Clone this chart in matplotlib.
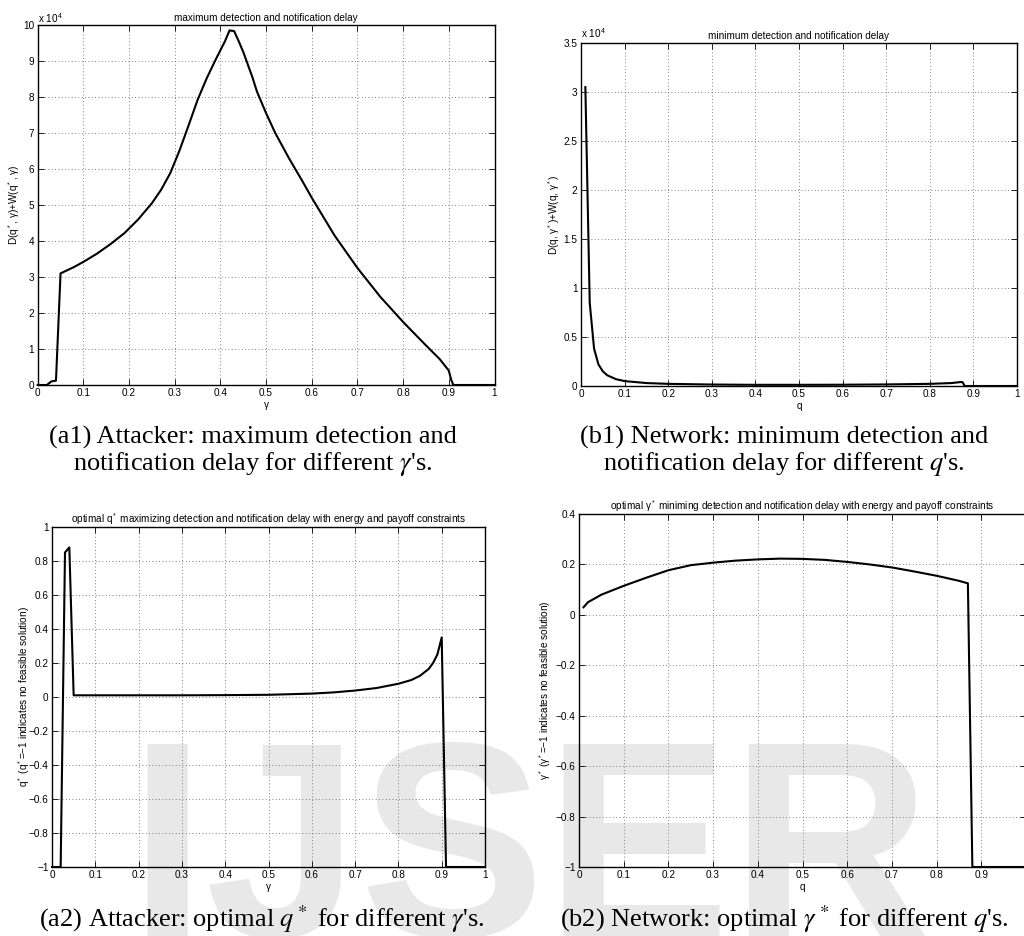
import numpy as np
import matplotlib
matplotlib.use("Agg")
import matplotlib.pyplot as plt

# ---------------- data ----------------
# (a1) maximum detection and notification delay vs gamma (units of 1e4)
a1_gamma = [0.00, 0.01, 0.02, 0.03, 0.04, 0.05, 0.08, 0.10, 0.13, 0.16, 0.19, 0.22, 0.25,
            0.27, 0.29, 0.31, 0.33, 0.35, 0.37, 0.39, 0.41, 0.42, 0.43, 0.44, 0.45, 0.46,
            0.47, 0.48, 0.49, 0.50, 0.52, 0.55, 0.58, 0.60, 0.65, 0.70, 0.75, 0.80, 0.85,
            0.88, 0.90, 0.905, 0.91, 0.95, 1.00]
a1_delay = [0.00, 0.00, 0.00, 0.10, 0.12, 3.10, 3.28, 3.42, 3.65, 3.92, 4.22, 4.60, 5.05,
            5.42, 5.88, 6.50, 7.20, 7.92, 8.52, 9.05, 9.55, 9.85, 9.83, 9.55, 9.25, 8.90,
            8.55, 8.15, 7.85, 7.55, 7.00, 6.30, 5.65, 5.20, 4.15, 3.25, 2.45, 1.75, 1.10,
            0.72, 0.40, 0.15, 0.00, 0.00, 0.00]

# (b1) minimum detection and notification delay vs q (units of 1e4)
b1_q = [0.01, 0.02, 0.03, 0.04, 0.05, 0.06, 0.08, 0.10, 0.15, 0.20, 0.30, 0.40, 0.50,
        0.60, 0.70, 0.80, 0.85, 0.87, 0.875, 0.88, 0.95, 1.00]
b1_delay = [3.05, 0.85, 0.38, 0.22, 0.15, 0.11, 0.07, 0.05, 0.03, 0.022, 0.015, 0.012, 0.012,
            0.013, 0.016, 0.022, 0.030, 0.040, 0.040, 0.00, 0.00, 0.00]

# (a2) optimal q* vs gamma
a2_gamma = [0.00, 0.01, 0.02, 0.03, 0.04, 0.05, 0.10, 0.20, 0.30, 0.40, 0.50, 0.60, 0.65,
            0.70, 0.75, 0.80, 0.83, 0.85, 0.87, 0.88, 0.89, 0.90, 0.91, 0.95, 1.00]
a2_qstar = [-1.0, -1.0, -1.0, 0.85, 0.88, 0.01, 0.01, 0.01, 0.01, 0.011, 0.013, 0.02, 0.027,
            0.038, 0.053, 0.078, 0.10, 0.125, 0.165, 0.20, 0.25, 0.35, -1.0, -1.0, -1.0]

# (b2) optimal gamma* vs q
b2_q = [0.01, 0.02, 0.05, 0.10, 0.15, 0.20, 0.25, 0.30, 0.35, 0.40, 0.45, 0.50, 0.55,
        0.60, 0.65, 0.70, 0.75, 0.80, 0.85, 0.87, 0.88, 0.95, 1.00]
b2_gstar = [0.03, 0.05, 0.08, 0.115, 0.147, 0.177, 0.197, 0.207, 0.215, 0.220, 0.223, 0.222,
            0.218, 0.210, 0.200, 0.188, 0.172, 0.155, 0.135, 0.125, -1.0, -1.0, -1.0]

x_ticks = [0, 0.1, 0.2, 0.3, 0.4, 0.5, 0.6, 0.7, 0.8, 0.9, 1]
x_ticklabels = ["0", "0.1", "0.2", "0.3", "0.4", "0.5", "0.6", "0.7", "0.8", "0.9", "1"]
a1_yticks = [0, 1, 2, 3, 4, 5, 6, 7, 8, 9, 10]
a1_yticklabels = ["0", "1", "2", "3", "4", "5", "6", "7", "8", "9", "10"]
b1_yticks = [0, 0.5, 1, 1.5, 2, 2.5, 3, 3.5]
b1_yticklabels = ["0", "0.5", "1", "1.5", "2", "2.5", "3", "3.5"]
a2_yticks = [-1, -0.8, -0.6, -0.4, -0.2, 0, 0.2, 0.4, 0.6, 0.8, 1]
a2_yticklabels = ["\u22121", "\u22120.8", "\u22120.6", "\u22120.4", "\u22120.2", "0",
                  "0.2", "0.4", "0.6", "0.8", "1"]
b2_yticks = [-1, -0.8, -0.6, -0.4, -0.2, 0, 0.2, 0.4]
b2_yticklabels = ["\u22121", "\u22120.8", "\u22120.6", "\u22120.4", "\u22120.2", "0", "0.2", "0.4"]

# ---------------- figure ----------------
plt.rcParams['font.family'] = ['Liberation Sans', 'DejaVu Sans']
plt.rcParams['mathtext.fontset'] = 'custom'
plt.rcParams['mathtext.rm'] = 'Liberation Sans'
plt.rcParams['mathtext.it'] = 'Liberation Sans:italic'

W, H = 1024, 936
fig = plt.figure(figsize=(W / 100, H / 100), dpi=100)

# watermark
fig.text(128 / W, 0.0, "IJSER", fontsize=200, fontweight='bold', color='#e8e8e8',
         ha='left', va='baseline', zorder=-5, family='Liberation Sans')

FS = 7.2


def px_axes(left, top, right, bottom):
    return [left / W, 1 - bottom / H, (right - left) / W, (bottom - top) / H]


def style(ax, ylim, yticks, yticklabels, xlabel, ylabel, ylabel_px, left_px, width_px, title):
    ax.set_facecolor('none')
    ax.set_xlim(0, 1)
    ax.set_ylim(*ylim)
    ax.set_xticks(x_ticks)
    ax.set_xticklabels(x_ticklabels, fontsize=FS)
    ax.set_yticks(yticks)
    ax.set_yticklabels(yticklabels, fontsize=FS)
    ax.tick_params(direction='in', length=4, width=0.6, top=True, right=True, pad=2.5)
    ax.grid(True, linestyle=(0, (1, 3)), color='0.35', linewidth=0.6)
    for s in ax.spines.values():
        s.set_linewidth(1.0)
        s.set_color('black')
    ax.set_xlabel(xlabel, fontsize=FS, labelpad=1.0)
    ax.text((ylabel_px - left_px) / width_px, 0.5, ylabel, transform=ax.transAxes,
            rotation=90, ha='center', va='center', fontsize=FS)
    ax.set_title(title, fontsize=FS, pad=3)


cap_kw = dict(fontsize=19, family='Liberation Serif', math_fontfamily='stix',
              ha='center', va='center')

# (a1)
ax1 = fig.add_axes(px_axes(37.7, 25, 494.5, 385))
ax1.plot(a1_gamma, a1_delay, color='black', lw=1.5, clip_on=False)
style(ax1, (0, 10), a1_yticks, a1_yticklabels, "\u03b3",
      "D(q$^*$, \u03b3)+W(q$^*$, \u03b3)", 14, 37.7, 456.8,
      "maximum detection and notification delay")
ax1.text(0, 1.0, "x 10$^4$", transform=ax1.transAxes, fontsize=FS, ha='left', va='bottom')
fig.text(253 / W, 1 - 437 / H, "(a1) Attacker: maximum detection and", **cap_kw)
fig.text(253 / W, 1 - 464 / H, r"notification delay for different $\gamma$'s.", **cap_kw)

# (b1)
ax2 = fig.add_axes(px_axes(581, 43, 1017, 386))
ax2.plot(b1_q, b1_delay, color='black', lw=1.5, clip_on=False)
style(ax2, (0, 3.5), b1_yticks, b1_yticklabels, "q",
      "D(q, \u03b3$^*$)+W(q, \u03b3$^*$)", 554, 581, 436,
      "minimum detection and notification delay")
ax2.text(0, 1.01, "x 10$^4$", transform=ax2.transAxes, fontsize=FS, ha='left', va='bottom')
fig.text(784 / W, 1 - 437 / H, "(b1) Network: minimum detection and", **cap_kw)
fig.text(784 / W, 1 - 464 / H, r"notification delay for different $q$'s.", **cap_kw)

# (a2)
ax3 = fig.add_axes(px_axes(52, 527, 485, 867))
ax3.plot(a2_gamma, a2_qstar, color='black', lw=1.5, clip_on=False)
style(ax3, (-1, 1), a2_yticks, a2_yticklabels, "\u03b3",
      "q$^*$ (q$^*$=\u22121 indicates no feasible solution)", 24, 52, 433,
      "optimal q$^*$ maximizing detection and notification delay with energy and payoff constraints")
fig.text(262 / W, 1 - 919 / H, r"(a2) Attacker: optimal $q^*$ for different $\gamma$'s.", **cap_kw)

# (b2)
ax4 = fig.add_axes(px_axes(579, 514, 1026, 867))
ax4.plot(b2_q, b2_gstar, color='black', lw=1.5, clip_on=False)
style(ax4, (-1, 0.4), b2_yticks, b2_yticklabels, "q",
      "\u03b3$^*$ (\u03b3$^*$=\u22121 indicates no feasible solution)", 545, 579, 447,
      "optimal \u03b3$^*$ miniming detection and notification delay with energy and payoff constraints")
fig.text(784 / W, 1 - 919 / H, r"(b2) Network: optimal $\gamma^*$ for different $q$'s.", **cap_kw)

fig.savefig("out.png", dpi=100)
